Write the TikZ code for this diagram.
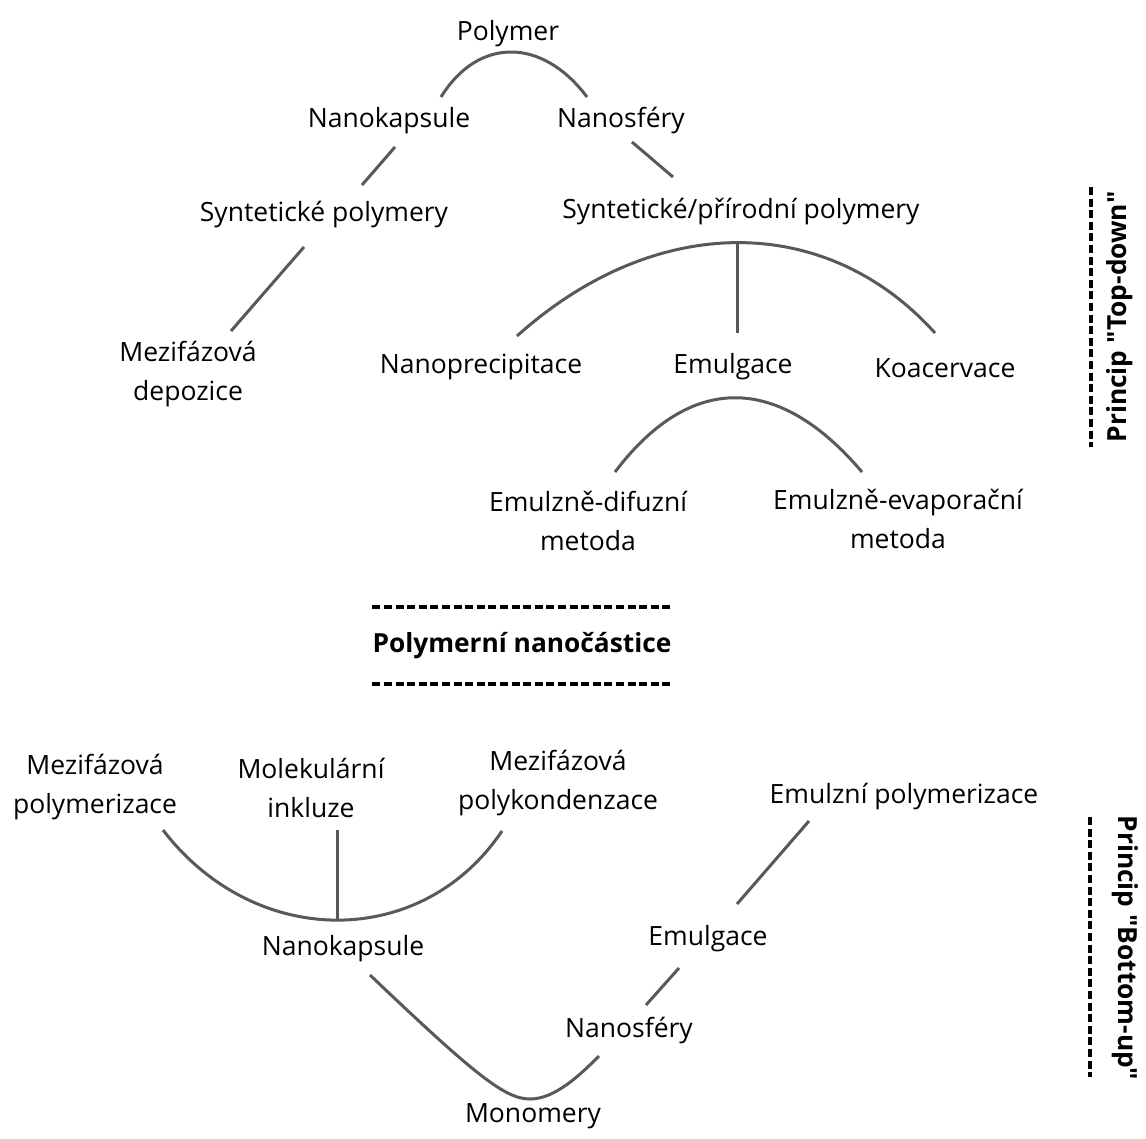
\documentclass[tikz,border=0pt]{standalone}
\usepackage{fontspec}
\setmainfont{Open Sans}[Ligatures=TeXOff]
\begin{document}
\begin{tikzpicture}[x=1pt,y=-1pt,
        lbl/.style={font=\fontsize{26.5}{38.5}\selectfont, align=center, inner sep=0pt},
        hdr/.style={font=\fontsize{26.3}{30}\selectfont\bfseries, inner sep=0pt},
        link/.style={draw=black!65, line width=3pt},
        sep/.style={draw=black, line width=3.4pt, dash pattern=on 8pt off 3.6pt}]
    \useasboundingbox (0,0) rectangle (1146,1138);
    % Princip "Top-down"
    \node[lbl] (poly) at (508,34) {Polymer};
    \node[lbl] (kapT) at (389,121) {Nanokapsule};
    \node[lbl] (sfeT) at (621,121) {Nanosféry};
    \node[lbl] (synT) at (324,215) {Syntetické polymery};
    \node[lbl] (prirT) at (741,212) {Syntetické/přírodní polymery};
    \node[lbl] (depo) at (188,374) {Mezifázová\\depozice};
    \node[lbl] (prec) at (481,367) {Nanoprecipitace};
    \node[lbl] (emuT) at (733,367) {Emulgace};
    \node[lbl] (koac) at (945,368) {Koacervace};
    \node[lbl] (difu) at (588,521) {Emulzně-difuzní\\metoda};
    \node[lbl] (evap) at (898,519) {Emulzně-evaporační\\metoda};
    \coordinate (polyL) at (441,97);
    \coordinate (polyR) at (587,97);
    \coordinate (kapTs) at (395,147);
    \coordinate (synTn) at (362,185);
    \coordinate (sfeTs) at (632,142);
    \coordinate (prirTn) at (673,177);
    \coordinate (synTs) at (304,247);
    \coordinate (depoN) at (231,331);
    \coordinate (prirTs) at (737,243);
    \coordinate (precN) at (517,336);
    \coordinate (emuTn) at (737,333);
    \coordinate (koacN) at (935,333);
    \coordinate (emuTs) at (735,398);
    \coordinate (difuN) at (615,472);
    \coordinate (evapN) at (862,472);
    \draw[link] (polyL) .. controls (478,37) and (542,37) .. (polyR);
    \draw[link] (kapTs) -- (synTn);
    \draw[link] (sfeTs) -- (prirTn);
    \draw[link] (synTs) -- (depoN);
    \draw[link] (precN) .. controls (655,212) and (826,212) .. (koacN);
    \draw[link] (prirTs) -- (emuTn);
    \draw[link] (difuN) .. controls (690,373) and (778,373) .. (evapN);
    % Polymerni nanocastice
    \node[hdr] (nano) at (522,646) {Polymerní nanočástice};
    \draw[sep] (nano.west |- 0,607) -- (nano.east |- 0,607);
    \draw[sep] (nano.west |- 0,684) -- (nano.east |- 0,684);
    % Princip "Bottom-up"
    \node[lbl] (polymB) at (95,787) {Mezifázová\\polymerizace};
    \node[lbl] (inkl) at (311,788) {Molekulární\\inkluze};
    \node[lbl] (kond) at (558,783) {Mezifázová\\polykondenzace};
    \node[lbl] (emPol) at (904,797) {Emulzní polymerizace};
    \node[lbl] (kapB) at (343,949) {Nanokapsule};
    \node[lbl] (emuB) at (708,939) {Emulgace};
    \node[lbl] (sfeB) at (629,1031) {Nanosféry};
    \node[lbl] (mono) at (533,1116) {Monomery};
    \coordinate (polymBs) at (163,830);
    \coordinate (inklS) at (337,830);
    \coordinate (kondS) at (502,831);
    \coordinate (kapBn) at (337,920);
    \coordinate (kapBs) at (370,975);
    \coordinate (monoN) at (530,1099);
    \coordinate (sfeBs) at (599,1056);
    \coordinate (sfeBn) at (646,1005);
    \coordinate (emuBs) at (679,968);
    \coordinate (emuBn) at (737,904);
    \coordinate (emPolS) at (809,821);
    \draw[link] (polymBs) .. controls (255,950) and (422,950) .. (kondS);
    \draw[link] (inklS) -- (kapBn);
    \draw[link] (kapBs) .. controls (475,1075) and (505,1099) .. (monoN)
        .. controls (555,1099) and (580,1075) .. (sfeBs);
    \draw[link] (sfeBn) -- (emuBs);
    \draw[link] (emuBn) -- (emPolS);
    % side labels
    \node[hdr, rotate=90] (top) at (1120,317) {Princip "Top-down"};
    \node[hdr, rotate=-90] (bot) at (1125,948) {Princip "Bottom-up"};
    \draw[sep] (1091,187) -- (1091,447);
    \draw[sep] (1090,817) -- (1090,1077);
\end{tikzpicture}
\end{document}
